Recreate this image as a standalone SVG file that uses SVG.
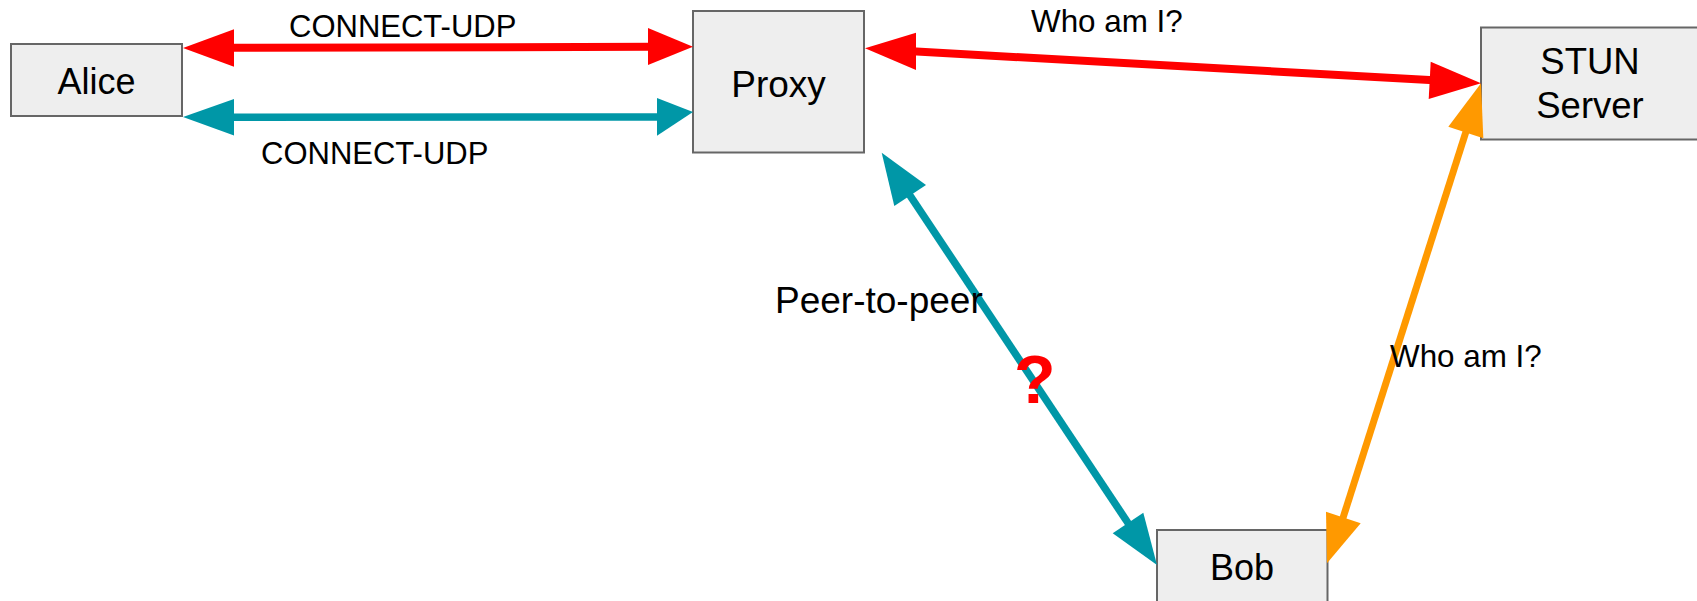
<svg xmlns="http://www.w3.org/2000/svg" width="1697" height="601" viewBox="0 0 1697 601">
  <style>
    .box { fill: #eeeeee; stroke: #666666; stroke-width: 2; }
    .name { font-family: "Liberation Sans", Arial, sans-serif; fill: #000000; text-anchor: middle; }
    .label { font-family: "Liberation Sans", Arial, sans-serif; fill: #000000; }
    .red { stroke: #ff0000; stroke-width: 8; fill: none; }
    .teal { stroke: #0097a7; stroke-width: 7.5; fill: none; }
    .orange { stroke: #ff9900; stroke-width: 7; fill: none; }
    .red-head { fill: #ff0000; }
    .teal-head { fill: #0097a7; }
    .orange-head { fill: #ff9900; }
  </style>
  <rect width="1697" height="601" fill="#ffffff"/>

  <g id="alice">
    <rect class="box" x="11" y="44" width="171" height="72"/>
    <text class="name" x="96.5" y="94" font-size="36">Alice</text>
  </g>

  <g id="proxy">
    <rect class="box" x="693" y="11" width="171" height="141.5"/>
    <text class="name" x="778.5" y="96.5" font-size="37">Proxy</text>
  </g>

  <g id="stun-server">
    <rect class="box" x="1481" y="27.5" width="222" height="112"/>
    <text class="name" x="1590" y="74" font-size="36.5">STUN</text>
    <text class="name" x="1590" y="118" font-size="36.5">Server</text>
  </g>

  <g id="bob">
    <rect class="box" x="1157" y="530" width="170.5" height="80"/>
    <text class="name" x="1242" y="579.5" font-size="36">Bob</text>
  </g>

  <g id="connectors">
    <!-- Alice <-> Proxy, red tunnel -->
    <line class="red" x1="230" y1="47.8" x2="652" y2="46.8"/>
    <polygon class="red-head" points="183,48 234,29.3 234,66.7"/>
    <polygon class="red-head" points="693,46.7 648,28 648,65"/>

    <!-- Alice <-> Proxy, teal tunnel -->
    <line class="teal" x1="230" y1="117.3" x2="660" y2="117"/>
    <polygon class="teal-head" points="183,117 234,99 234,135.5"/>
    <polygon class="teal-head" points="693,112 657,98 657,135.7"/>

    <!-- Proxy <-> STUN Server -->
    <line class="red" x1="912" y1="51.3" x2="1434" y2="80.3"/>
    <polygon class="red-head" points="865,48.3 916,32.7 916,70"/>
    <polygon class="red-head" points="1481,83.3 1430.7,61.7 1428.7,99"/>

    <!-- Proxy <-> Bob, peer-to-peer -->
    <line class="teal" x1="908" y1="192.5" x2="1130" y2="526"/>
    <polygon class="teal-head" points="881.7,152.7 894.3,206 926,185"/>
    <polygon class="teal-head" points="1157,565 1112.7,533.3 1143.3,512.7"/>

    <!-- STUN Server <-> Bob -->
    <line class="orange" x1="1467" y1="128.5" x2="1342" y2="521"/>
    <polygon class="orange-head" points="1481,83.3 1448.3,126.7 1483.3,138.3"/>
    <polygon class="orange-head" points="1327,563.3 1326,511.7 1360.7,523.3"/>
  </g>

  <g id="labels">
    <text class="label" x="289" y="36.5" font-size="31">CONNECT-UDP</text>
    <text class="label" x="261" y="164" font-size="31">CONNECT-UDP</text>
    <text class="label" x="1031" y="31.5" font-size="31.4">Who am I?</text>
    <text class="label" x="775" y="313.3" font-size="37">Peer-to-peer</text>
    <text x="1014" y="402.5" font-family="Liberation Sans, Arial, sans-serif" font-weight="bold" font-size="68" fill="#ff0000">?</text>
    <text class="label" x="1390" y="367.3" font-size="31.4">Who am I?</text>
  </g>
</svg>
